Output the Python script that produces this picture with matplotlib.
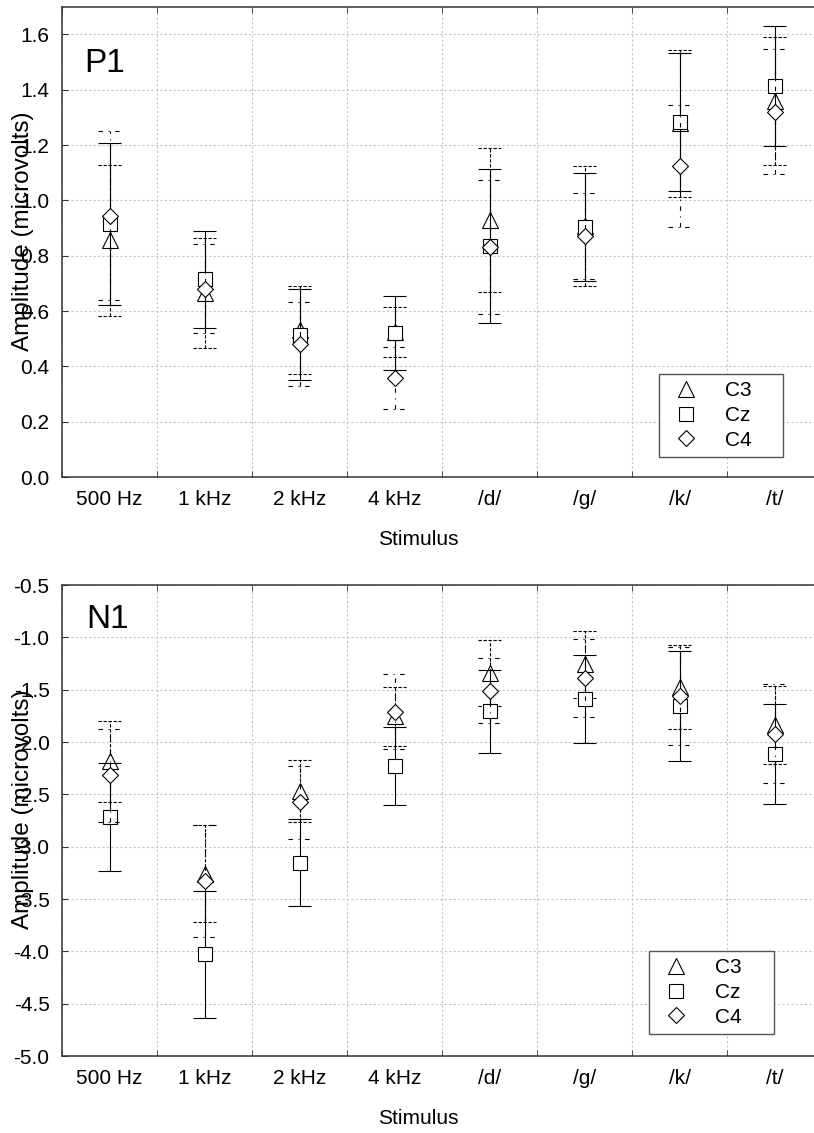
import numpy as np
import matplotlib.pyplot as plt
from matplotlib.ticker import FormatStrFormatter

plt.rcParams['font.family'] = ['Liberation Sans', 'DejaVu Sans']

# --- Data ---
stimuli = ['500 Hz', '1 kHz', '2 kHz', '4 kHz', '/d/', '/g/', '/k/', '/t/']
channels = ['C3', 'Cz', 'C4']

# P1 amplitudes (microvolts) and error bar half-widths
p1_c3 = [0.855, 0.665, 0.531, 0.525, 0.929, 0.907, 1.278, 1.358]
p1_cz = [0.914, 0.714, 0.514, 0.521, 0.836, 0.905, 1.283, 1.414]
p1_c4 = [0.945, 0.681, 0.481, 0.359, 0.830, 0.871, 1.125, 1.321]
p1_c3_err = [0.274, 0.198, 0.160, 0.091, 0.259, 0.216, 0.266, 0.231]
p1_cz_err = [0.292, 0.177, 0.164, 0.133, 0.278, 0.195, 0.248, 0.216]
p1_c4_err = [0.305, 0.161, 0.151, 0.112, 0.242, 0.157, 0.220, 0.227]

# N1 amplitudes (microvolts) and error bar half-widths
n1_c3 = [-2.186, -3.258, -2.469, -1.755, -1.340, -1.257, -1.475, -1.836]
n1_cz = [-2.718, -4.030, -3.152, -2.229, -1.708, -1.588, -1.655, -2.115]
n1_c4 = [-2.320, -3.330, -2.575, -1.710, -1.508, -1.388, -1.556, -1.920]
n1_c3_err = [0.390, 0.465, 0.299, 0.280, 0.318, 0.321, 0.400, 0.370]
n1_cz_err = [0.513, 0.607, 0.413, 0.370, 0.400, 0.420, 0.525, 0.480]
n1_c4_err = [0.440, 0.537, 0.350, 0.360, 0.310, 0.370, 0.468, 0.470]

p1_yticks = np.arange(0.0, 1.61, 0.2)
n1_yticks = np.arange(-5.0, -0.49, 0.5)

# --- Styles ---
markers = {'C3': '^', 'Cz': 's', 'C4': 'D'}
marker_sizes = {'C3': 11, 'Cz': 10.5, 'C4': 7.8}
bar_styles = {'C3': (0, (3, 1.5)), 'Cz': 'solid', 'C4': (0, (4, 5, 1, 5))}
cap = 0.116
FS = 15


def draw_panel(ax, means, errs, ylim, yticks, tag, tag_pos, legend_box):
    x = np.arange(len(stimuli))
    z = 3
    for name in channels:
        m = np.array(means[name])
        e = np.array(errs[name])
        ls = bar_styles[name]
        # error bar, caps drawn with the same line pattern, then the marker
        ax.vlines(x, m - e, m + e, colors='black', linestyles=ls,
                  linewidth=0.8, zorder=z)
        ax.hlines(np.r_[m - e, m + e], np.r_[x, x] - cap, np.r_[x, x] + cap,
                  colors='black', linestyles=ls, linewidth=0.8, zorder=z)
        ax.plot(x, m, ls='none', marker=markers[name], ms=marker_sizes[name],
                mfc='white', mec='black', mew=0.8, label=name, zorder=z + 1)
        z += 2

    ax.set_xlim(-0.5, len(stimuli) - 0.5)
    ax.set_ylim(*ylim)
    ax.set_xticks(x)
    ax.set_xticklabels(stimuli, fontsize=FS)
    ax.set_xticks(np.arange(len(stimuli) + 1) - 0.5, minor=True)
    ax.set_yticks(yticks)
    ax.yaxis.set_major_formatter(FormatStrFormatter('%.1f'))
    ax.tick_params(axis='x', which='major', length=0, pad=9)
    ax.tick_params(axis='x', which='minor', direction='in', length=4,
                   top=True, bottom=True, color='#333333')
    ax.tick_params(axis='y', which='major', direction='in', length=4,
                   labelsize=FS, pad=9, color='#333333')
    ax.grid(which='minor', axis='x', color='#c4c4c4', linestyle=(0, (2, 2)), linewidth=0.8)
    ax.grid(which='major', axis='y', color='#c4c4c4', linestyle=(0, (2, 2)), linewidth=0.8)
    ax.set_axisbelow(True)
    for sp in ax.spines.values():
        sp.set_color('#333333')
        sp.set_linewidth(1.1)

    ax.set_xlabel('Stimulus', fontsize=FS, va='center')
    ax.xaxis.set_label_coords(0.4684, -0.132)
    # the y label deliberately sits over the tick labels, as in the original
    ax.set_ylabel('Amplitude (microvolts)', fontsize=17.5, va='center')
    ax.yaxis.set_label_coords(-0.0513, 0.523)

    ax.text(tag_pos[0], tag_pos[1], tag, transform=ax.transAxes,
            fontsize=24, ha='left', va='baseline')

    leg = ax.legend(loc='lower left', bbox_to_anchor=legend_box, mode='expand',
                    fancybox=False, edgecolor='#555555', framealpha=1,
                    borderpad=0.35, labelspacing=0.28, handlelength=1.9,
                    handletextpad=0.9, numpoints=1, fontsize=FS, borderaxespad=0)
    leg.get_frame().set_linewidth(1.0)
    leg.set_zorder(20)


fig = plt.figure(figsize=(8.14, 11.33), dpi=100)
ax1 = fig.add_axes([0.07617, 0.57899, 0.93366, 0.41509])
ax2 = fig.add_axes([0.07617, 0.06796, 0.93366, 0.41571])

draw_panel(ax1,
           {'C3': p1_c3, 'Cz': p1_cz, 'C4': p1_c4},
           {'C3': p1_c3_err, 'Cz': p1_cz_err, 'C4': p1_c4_err},
           (0.0, 1.7), p1_yticks, 'P1', (0.0289, 0.862),
           (0.7855, 0.0425, 0.1632, 0.198))
draw_panel(ax2,
           {'C3': n1_c3, 'Cz': n1_cz, 'C4': n1_c4},
           {'C3': n1_c3_err, 'Cz': n1_cz_err, 'C4': n1_c4_err},
           (-5.0, -0.5), n1_yticks, 'N1', (0.0316, 0.9087),
           (0.7724, 0.0467, 0.1644, 0.2))

fig.savefig('out.png', dpi=100)
